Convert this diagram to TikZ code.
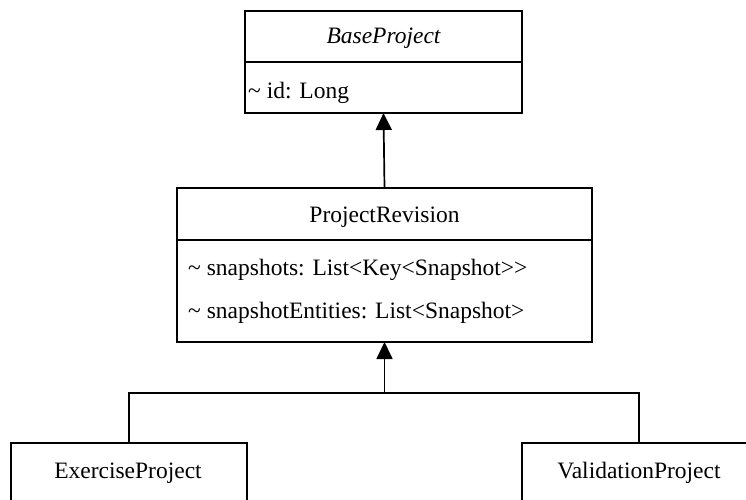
\documentclass[tikz,border=0pt]{standalone}
\usepackage{fontspec}
\setmainfont{Liberation Serif}
\usetikzlibrary{arrows.meta}
\begin{document}
\begin{tikzpicture}[x=1pt,y=-1pt,
  cls/.style={draw, line width=1.7pt, rectangle, inner sep=0pt, outer sep=0pt},
  lbl/.style={font=\fontsize{23.5}{28}\selectfont, inner sep=0pt},
  conn/.style={line width=1.7pt},
  gen/.style={line width=1.7pt, -{Triangle[width=16pt,length=17pt]}}]
\path[use as bounding box, clip] (0,0) rectangle (746,499);
% BaseProject
\node[cls, minimum width=277pt, minimum height=51pt] (baseH) at (383.5,36.5) {};
\node[lbl, anchor=base] (baseT) at (383.5,43) {\itshape BaseProject};
\node[cls, minimum width=277pt, minimum height=51pt, anchor=north] (baseB) at (baseH.south) {};
\node[lbl, anchor=base west] (baseA) at (248,98) {\textasciitilde{} id: Long};
% ProjectRevision
\node[cls, minimum width=415pt, minimum height=52pt] (prH) at (384.5,214) {};
\node[lbl, anchor=base] (prT) at (384.5,222) {ProjectRevision};
\node[cls, minimum width=415pt, minimum height=102pt, anchor=north] (prB) at (prH.south) {};
\node[lbl, anchor=base west] (prA1) at (188,275) {\textasciitilde{} snapshots: List<Key<Snapshot>{}>};
\node[lbl, anchor=base west] (prA2) at (188,318) {\textasciitilde{} snapshotEntities: List<Snapshot>};
% Subclasses
\node[cls, minimum width=236pt, minimum height=60pt] (exer) at (129,473) {};
\node[lbl, anchor=base] (exerT) at (128,478) {ExerciseProject};
\node[cls, minimum width=234pt, minimum height=60pt] (valid) at (639,473) {};
\node[lbl, anchor=base] (validT) at (639,478) {ValidationProject};
% Connectors
\coordinate (junc) at (384.5,393);
\draw[gen] (prH.north) -- (baseB.south);
\draw[conn] (exer.north) |- (junc);
\draw[conn] (valid.north) |- (junc);
\draw[gen] (junc) -- (prB.south);
\end{tikzpicture}
\end{document}
